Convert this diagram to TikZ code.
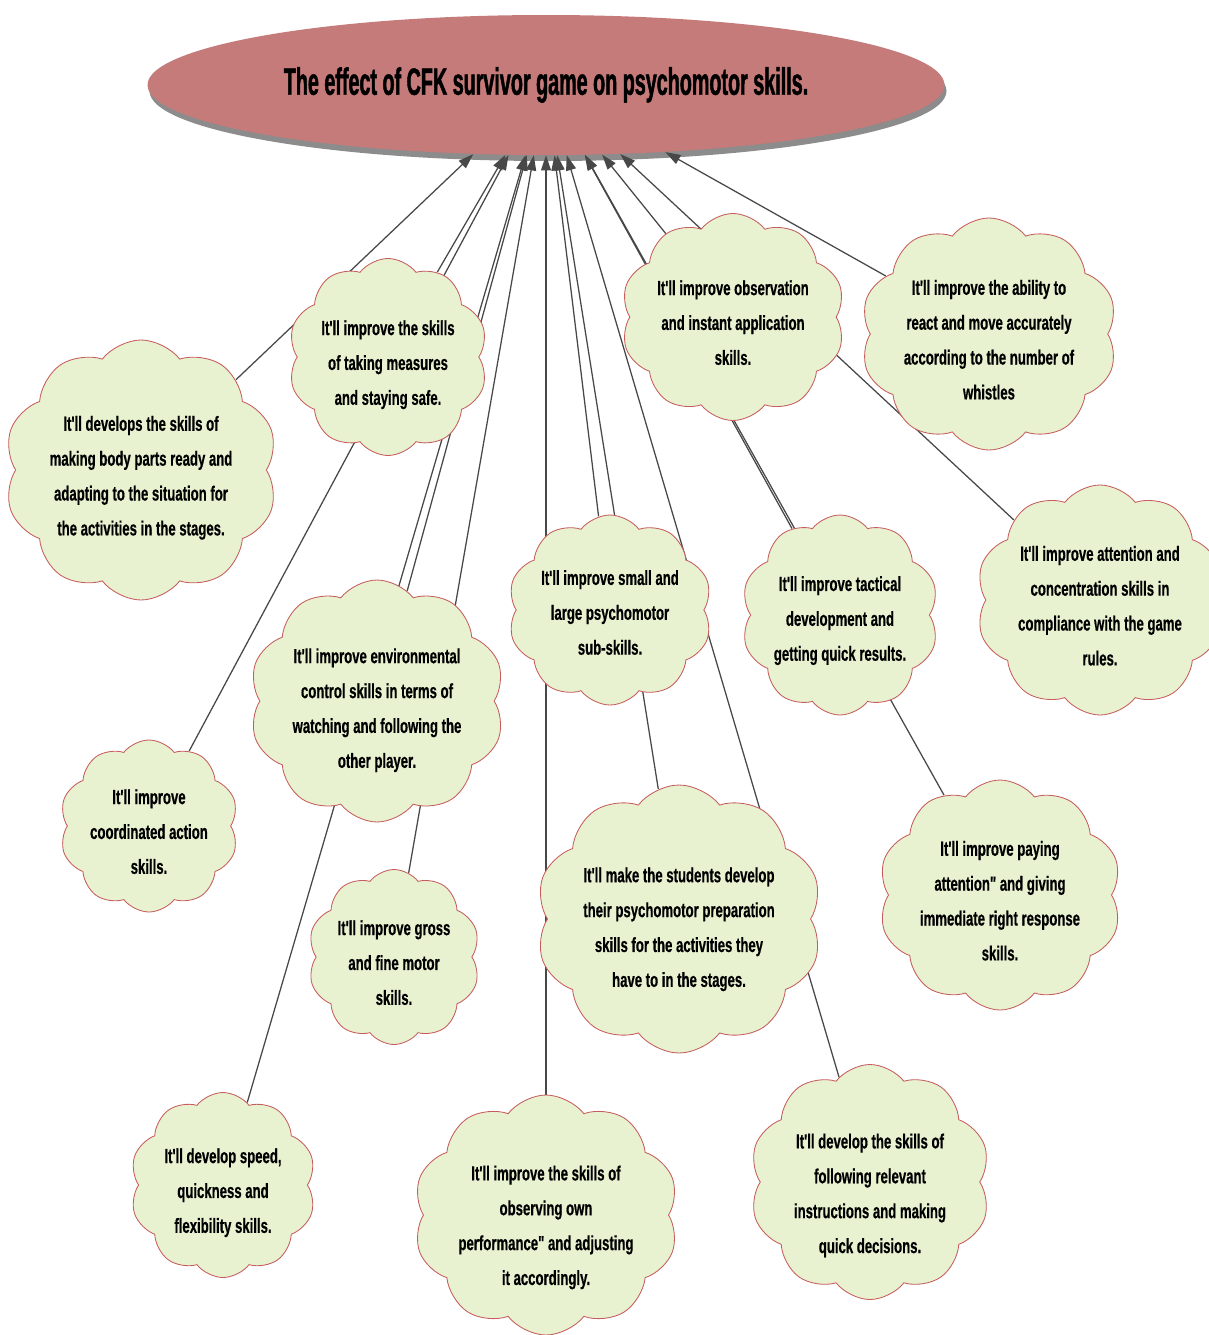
\documentclass[tikz,border=0pt]{standalone}
\usepackage{fontspec}
\newfontfamily\bubblefont[FakeStretch=0.645,FakeBold=0.5]{Liberation Sans}
\newfontfamily\headfont[FakeStretch=0.52,FakeBold=1.2]{Liberation Sans}
\usetikzlibrary{shapes.symbols,shapes.geometric,shadows,arrows.meta}
\pgfdeclarelayer{front}
\pgfsetlayers{main,front}
\definecolor{cloudfill}{RGB}{232,241,208}
\definecolor{cloudline}{RGB}{198,92,92}
\definecolor{titlefill}{RGB}{196,123,122}
\definecolor{linkgray}{RGB}{72,72,72}
\newcommand\pxu{0.025cm}

\begin{document}
\begin{tikzpicture}[
    x=\pxu, y=-\pxu,
    bubble/.style 2 args={
        cloud, cloud puffs=10, cloud puff arc=105, cloud ignores aspect,
        draw=cloudline, line width=0.6pt, fill=cloudfill,
        inner sep=0pt, align=center, text height=93pt, text depth=0pt,
        font=\bubblefont\bfseries\fontsize{14.5}{24.8}\selectfont,
        minimum width=#1*\pxu, minimum height=#2*\pxu
    },
    link/.style={draw=linkgray, line width=0.9pt, -{Triangle[length=0.38cm,width=0.25cm]}}
]
    \useasboundingbox (0,0) rectangle (1209,1335);

    \node[
        ellipse,
        fill=titlefill,
        inner sep=0pt,
        minimum width=797*\pxu,
        minimum height=140*\pxu,
        drop shadow={shadow xshift=0.05cm, shadow yshift=-0.15cm, fill=black!45, opacity=1},
        font=\headfont\bfseries\fontsize{27}{30}\selectfont
    ] (effect) at (546,85) {The effect of CFK survivor game on psychomotor skills.};

    \begin{pgfonlayer}{front}
    \node[bubble={258}{260}] (bodyparts) at (141,470) {It'll develops the skills of\\making body parts ready and\\adapting to the situation for\\the activities in the stages.};
    \node[bubble={170}{197}, text height=68pt] (safety) at (388,357) {It'll improve the skills\\of taking measures\\and staying safe.};
    \node[bubble={206}{207}, text height=68pt] (observation) at (733,317) {It'll improve observation\\and instant application\\skills.};
    \node[bubble={230}{232}] (whistles) at (989,334) {It'll improve the ability to\\react and move accurately\\according to the number of\\whistles};
    \node[bubble={219}{230}] (attention) at (1100,600) {It'll improve attention and\\concentration skills in\\compliance with the game\\rules.};
    \node[bubble={195}{200}, text height=65pt] (tactical) at (840,615) {It'll improve tactical\\development and\\getting quick results.};
    \node[bubble={190}{190}, text height=63.5pt] (subskills) at (610,610) {It'll improve small and\\large psychomotor\\sub-skills.};
    \node[bubble={242}{242}, text height=95pt] (environment) at (377,701) {It'll improve environmental\\control skills in terms of\\watching and following the\\other player.};
    \node[bubble={175}{172}, text height=68pt] (coordination) at (149,826) {It'll improve\\coordinated action\\skills.};
    \node[bubble={170}{175}, text height=68pt] (motor) at (394,957) {It'll improve gross\\and fine motor\\skills.};
    \node[bubble={267}{268}, text height=96.5pt] (preparation) at (679,919) {It'll make the students develop\\their psychomotor preparation\\skills for the activities they\\have to in the stages.};
    \node[bubble={232}{230}] (response) at (1000,895) {It'll improve paying\\attention" and giving\\immediate right response\\skills.};
    \node[bubble={186}{185}, text height=68pt] (speed) at (223,1185) {It'll develop speed,\\quickness and\\flexibility skills.};
    \node[bubble={240}{240}, text height=99.5pt] (performance) at (546,1215) {It'll improve the skills of\\observing own\\performance" and adjusting\\it accordingly.};
    \node[bubble={241}{235}, text height=101pt] (decisions) at (870,1182) {It'll develop the skills of\\following relevant\\instructions and making\\quick decisions.};
    \end{pgfonlayer}

    \foreach \c in {bodyparts, safety, observation, whistles, attention, tactical, subskills, environment, coordination, motor, preparation, response, speed, performance, decisions} {
        \draw[link] (\c) -- (effect);
    }
\end{tikzpicture}
\end{document}
